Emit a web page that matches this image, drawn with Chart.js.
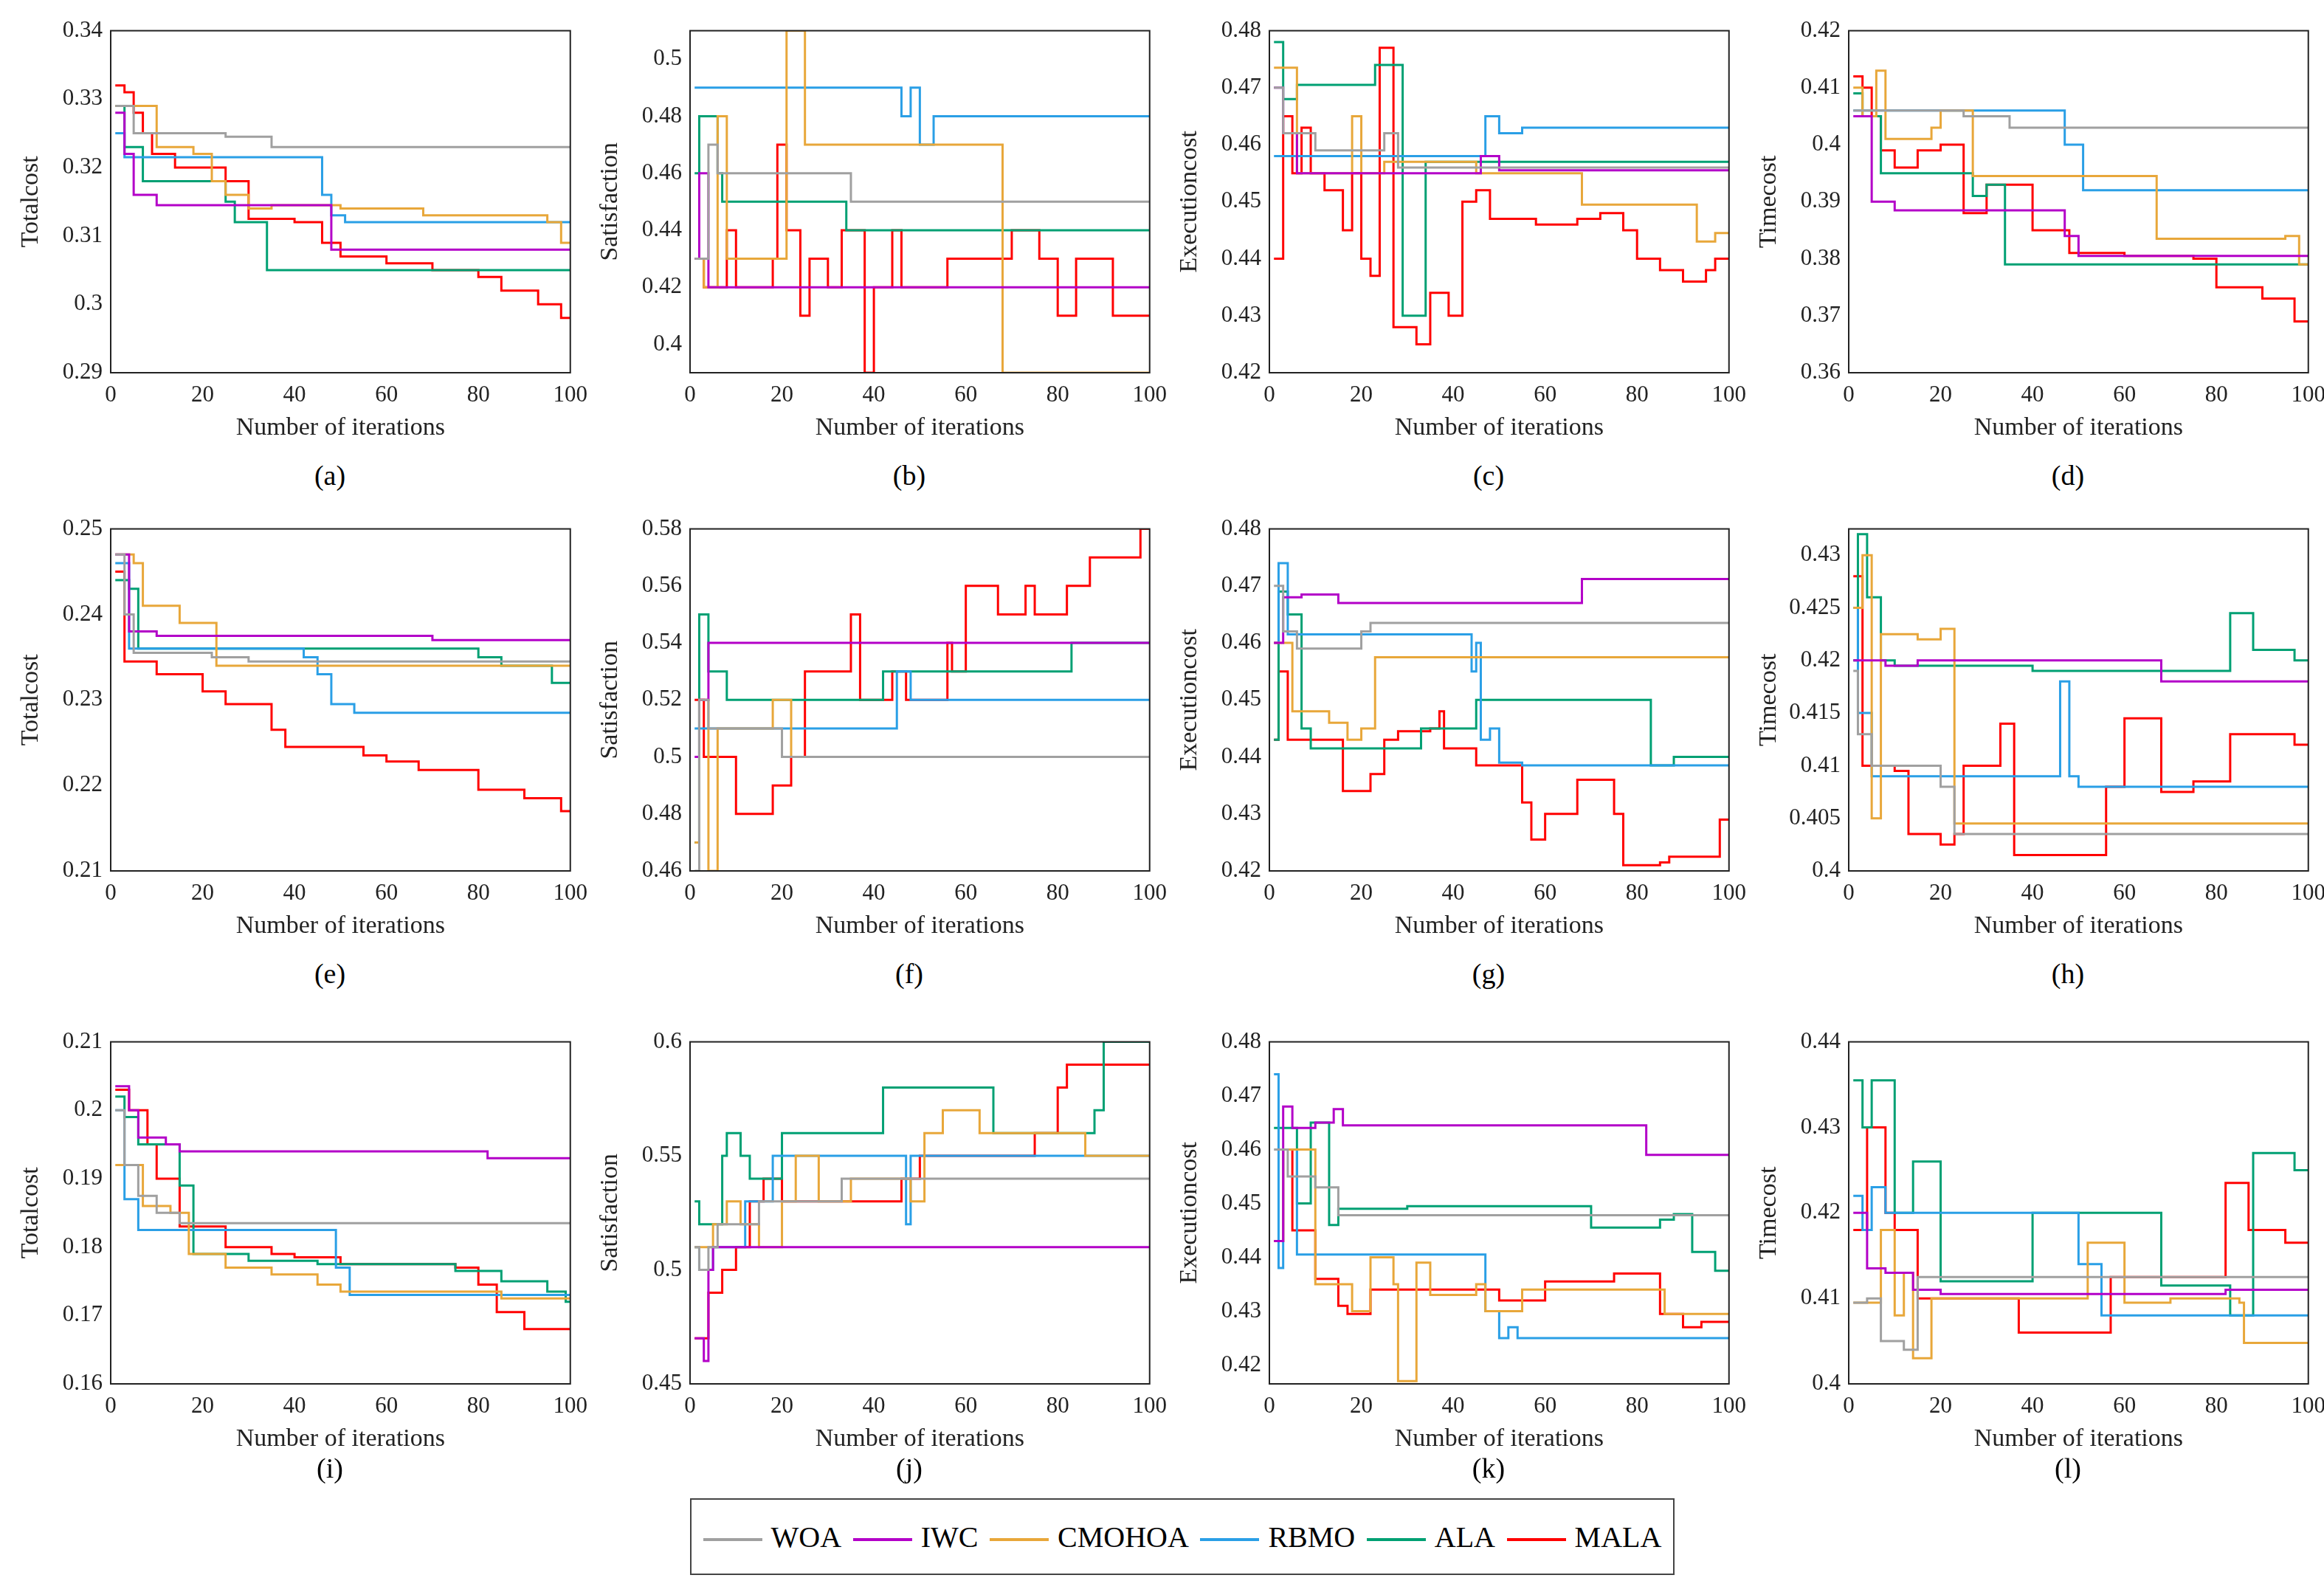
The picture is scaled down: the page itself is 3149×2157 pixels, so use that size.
<!DOCTYPE html>
<html>
<head>
<meta charset="utf-8">
<script src="https://cdn.jsdelivr.net/npm/chart.js@4"></script>
<style>
  body { margin: 0; background: #fff; width: 3149px; height: 2157px; position: relative; overflow: hidden; font-family: "Liberation Serif", serif; }
  .panel { position: absolute; width: 780px; height: 580px; }
  .tag { position: absolute; font-size: 38px; width: 200px; text-align: center; }
  #legend { position: absolute; left: 935px; top: 2030px; width: 1330px; height: 100px; border: 2px solid #444; display: flex; align-items: center; justify-content: space-evenly; font-size: 40px; }
  #legend span.ln { display: inline-block; width: 80px; height: 0; border-top: 4px solid; vertical-align: middle; margin-right: 12px; }
</style>
</head>
<body>
<div id="legend"></div>
<script>
const seriesNames = ["WOA", "IWC", "CMOHOA", "RBMO", "ALA", "MALA"];
const seriesColors = ["#a0a0a0", "#b300c8", "#e8a73a", "#2a9fe6", "#00a073", "#ff0000"];
const yTitles = ["Totalcost", "Satisfaction", "Executioncost", "Timecost"];
const xTicks = [0, 20, 40, 60, 80, 100];

// step breakpoints [iteration, value] per panel, series order as seriesNames
const pA = [
  [[1,.329],[5,.325],[25,.3245],[35,.323]],
  [[1,.328],[3,.322],[5,.316],[10,.3145],[48,.308]],
  [[1,.329],[10,.323],[18,.322],[22,.318],[25,.316],[30,.314],[35,.3145],[50,.314],[68,.313],[95,.312],[98,.309]],
  [[1,.325],[3,.3215],[46,.316],[48,.313],[51,.312]],
  [[1,.329],[3,.323],[7,.318],[25,.315],[27,.312],[34,.305]],
  [[1,.332],[3,.331],[5,.328],[7,.325],[9,.322],[14,.320],[25,.318],[30,.3125],[40,.312],[46,.309],[50,.307],[60,.306],[70,.305],[80,.304],[85,.302],[93,.300],[98,.298]]
];
const pB = [
  [[1,.43],[4,.47],[6,.46],[35,.45]],
  [[1,.43],[2,.46],[4,.42]],
  [[1,.43],[3,.42],[6,.48],[8,.43],[21,.51],[25,.47],[68,.39]],
  [[1,.49],[46,.48],[48,.49],[50,.47],[53,.48]],
  [[1,.46],[2,.48],[6,.46],[7,.45],[34,.44]],
  [[1,.43],[3,.42],[8,.44],[10,.42],[18,.43],[19,.47],[21,.44],[24,.41],[26,.43],[30,.42],[33,.44],[38,.39],[40,.42],[44,.44],[46,.42],[56,.43],[70,.44],[76,.43],[80,.41],[84,.43],[92,.41]]
];
const pC = [
  [[1,.47],[3,.462],[10,.459],[25,.462],[28,.456]],
  [[1,.47],[3,.462],[6,.455],[46,.458],[50,.4555]],
  [[1,.4735],[6,.455],[18,.465],[20,.455],[25,.457],[45,.455],[68,.4495],[93,.443],[97,.4445]],
  [[1,.458],[47,.465],[50,.462],[55,.463]],
  [[1,.478],[3,.468],[6,.4705],[23,.474],[29,.430],[34,.457]],
  [[1,.44],[3,.465],[5,.455],[7,.463],[9,.455],[12,.452],[16,.445],[18,.455],[20,.440],[22,.437],[24,.477],[27,.428],[32,.425],[35,.434],[39,.430],[42,.450],[45,.452],[48,.447],[58,.446],[67,.447],[72,.448],[77,.445],[80,.440],[85,.438],[90,.436],[95,.438],[97,.440]]
];
const pD = [
  [[1,.406],[25,.405],[35,.403]],
  [[1,.405],[5,.390],[10,.3885],[47,.384],[50,.3805]],
  [[1,.410],[3,.405],[6,.413],[8,.401],[18,.403],[20,.406],[27,.3945],[67,.3835],[95,.384],[98,.379]],
  [[1,.406],[47,.400],[51,.392]],
  [[1,.409],[3,.405],[7,.395],[27,.391],[30,.393],[34,.379]],
  [[1,.412],[3,.410],[5,.405],[7,.399],[10,.396],[15,.399],[20,.400],[25,.388],[30,.393],[40,.385],[48,.381],[60,.3805],[75,.380],[80,.375],[90,.373],[97,.369]]
];
const pE = [
  [[1,.247],[3,.240],[5,.2355],[22,.235],[30,.2345]],
  [[1,.247],[4,.238],[10,.2375],[70,.237]],
  [[1,.247],[5,.246],[7,.241],[15,.239],[23,.234]],
  [[1,.246],[4,.236],[42,.235],[45,.233],[48,.2295],[53,.2285]],
  [[1,.244],[4,.243],[6,.236],[80,.235],[85,.234],[96,.232]],
  [[1,.245],[3,.2345],[10,.233],[20,.231],[25,.2295],[35,.2265],[38,.2245],[55,.2235],[60,.2228],[67,.2218],[80,.2195],[90,.2185],[98,.217]]
];
const pF = [
  [[1,.46],[2,.52],[4,.51],[20,.50]],
  [[1,.50],[2,.52],[4,.54]],
  [[1,.47],[2,.52],[4,.46],[6,.51],[18,.52],[22,.50]],
  [[1,.51],[45,.53],[48,.52]],
  [[1,.47],[2,.55],[4,.53],[8,.52],[42,.53],[83,.54]],
  [[1,.52],[3,.50],[10,.48],[18,.49],[22,.50],[25,.53],[35,.55],[37,.52],[44,.53],[47,.52],[56,.54],[57,.53],[60,.56],[67,.55],[73,.56],[75,.55],[82,.56],[87,.57],[98,.58]]
];
const pG = [
  [[1,.47],[3,.462],[6,.459],[20,.462],[22,.4635]],
  [[1,.46],[3,.468],[7,.4685],[15,.467],[68,.4712]],
  [[1,.46],[5,.448],[13,.446],[17,.443],[20,.445],[23,.4575]],
  [[1,.46],[2,.474],[4,.4615],[44,.455],[45,.460],[46,.443],[48,.445],[50,.439],[55,.4385]],
  [[1,.443],[2,.469],[4,.465],[7,.445],[9,.4415],[33,.445],[45,.450],[83,.4385],[88,.440]],
  [[1,.443],[2,.455],[4,.443],[16,.434],[22,.437],[25,.443],[28,.4445],[35,.445],[37,.448],[38,.4415],[45,.4385],[55,.432],[57,.4255],[60,.430],[67,.436],[75,.430],[77,.421],[85,.4215],[87,.4225],[98,.429]]
];
const pH = [
  [[1,.419],[2,.413],[5,.410],[20,.408],[23,.4035]],
  [[1,.420],[8,.4195],[15,.420],[68,.418]],
  [[1,.425],[3,.430],[5,.405],[7,.4225],[15,.422],[20,.423],[23,.4045]],
  [[1,.425],[2,.415],[5,.409],[46,.418],[48,.409],[50,.408]],
  [[1,.420],[2,.432],[4,.426],[7,.420],[10,.4195],[40,.419],[83,.4245],[88,.421],[97,.420]],
  [[1,.428],[3,.410],[10,.4095],[13,.4035],[20,.4025],[23,.4035],[25,.410],[33,.414],[36,.4015],[56,.408],[60,.4145],[68,.4075],[75,.4085],[83,.413],[97,.412]]
];
const pI = [
  [[1,.200],[3,.192],[6,.1875],[10,.185],[15,.1835]],
  [[1,.2035],[4,.200],[6,.196],[12,.195],[15,.194],[82,.193]],
  [[1,.192],[7,.186],[13,.185],[17,.179],[25,.177],[35,.176],[45,.1745],[50,.1735],[85,.1725]],
  [[1,.200],[3,.187],[6,.1825],[49,.177],[52,.173]],
  [[1,.202],[3,.199],[6,.195],[15,.189],[18,.179],[30,.178],[45,.1775],[75,.1765],[85,.175],[95,.1735],[99,.172]],
  [[1,.203],[4,.200],[8,.195],[10,.190],[15,.183],[25,.180],[35,.179],[40,.1785],[50,.1775],[75,.177],[80,.1745],[84,.1705],[90,.168]]
];
const pJ = [
  [[1,.51],[2,.50],[4,.51],[6,.52],[15,.53],[33,.54]],
  [[1,.47],[3,.46],[4,.50],[5,.51]],
  [[1,.51],[5,.52],[8,.53],[11,.52],[15,.51],[20,.53],[23,.55],[28,.53],[35,.54],[48,.53],[51,.56],[55,.57],[63,.56],[86,.55]],
  [[1,.51],[2,.50],[5,.51],[12,.53],[18,.55],[47,.52],[48,.55]],
  [[1,.53],[2,.52],[7,.55],[8,.56],[11,.55],[13,.54],[20,.56],[42,.58],[66,.56],[88,.57],[90,.60]],
  [[1,.47],[4,.49],[7,.50],[10,.51],[13,.53],[16,.54],[20,.53],[46,.54],[50,.55],[75,.56],[80,.58],[82,.59]]
];
const pK = [
  [[1,.460],[4,.455],[10,.453],[15,.4478]],
  [[1,.443],[3,.468],[5,.464],[10,.465],[14,.4675],[16,.4645],[82,.459]],
  [[1,.443],[3,.460],[10,.435],[18,.430],[22,.440],[27,.435],[28,.417],[32,.439],[35,.433],[45,.435],[47,.430],[55,.434],[86,.4295]],
  [[1,.474],[2,.438],[3,.460],[6,.4405],[47,.430],[50,.425],[52,.427],[54,.425]],
  [[1,.464],[6,.450],[9,.465],[13,.446],[15,.449],[30,.4495],[70,.4455],[85,.447],[88,.448],[92,.441],[97,.4375]],
  [[1,.443],[3,.460],[5,.445],[10,.436],[15,.431],[17,.4295],[22,.434],[50,.432],[60,.4355],[75,.437],[85,.4295],[90,.427],[94,.428]]
];
const pL = [
  [[1,.4095],[4,.410],[7,.405],[12,.404],[15,.4125]],
  [[1,.420],[4,.4135],[8,.413],[14,.411],[20,.4105],[82,.411]],
  [[1,.4095],[7,.418],[10,.408],[12,.413],[14,.403],[18,.410],[52,.4165],[60,.4095],[70,.410],[85,.4095],[86,.4048]],
  [[1,.422],[3,.418],[5,.423],[8,.420],[50,.414],[55,.408]],
  [[1,.4355],[3,.430],[5,.4355],[10,.420],[14,.426],[20,.412],[40,.420],[68,.4115],[83,.408],[88,.427],[97,.425]],
  [[1,.418],[4,.430],[8,.420],[10,.418],[15,.410],[37,.406],[57,.4125],[82,.4235],[87,.418],[95,.4165]]
];

const yTicksA = [0.29, 0.30, 0.31, 0.32, 0.33, 0.34];
const yTicksB = [0.40, 0.42, 0.44, 0.46, 0.48, 0.50];
const yTicksC = [0.42, 0.43, 0.44, 0.45, 0.46, 0.47, 0.48];
const yTicksD = [0.36, 0.37, 0.38, 0.39, 0.40, 0.41, 0.42];
const yTicksE = [0.21, 0.22, 0.23, 0.24, 0.25];
const yTicksF = [0.46, 0.48, 0.50, 0.52, 0.54, 0.56, 0.58];
const yTicksG = [0.42, 0.43, 0.44, 0.45, 0.46, 0.47, 0.48];
const yTicksH = [0.400, 0.405, 0.410, 0.415, 0.420, 0.425, 0.430];
const yTicksI = [0.16, 0.17, 0.18, 0.19, 0.20, 0.21];
const yTicksJ = [0.45, 0.50, 0.55, 0.60];
const yTicksK = [0.42, 0.43, 0.44, 0.45, 0.46, 0.47, 0.48];
const yTicksL = [0.40, 0.41, 0.42, 0.43, 0.44];

const panels = [
  { data: pA, ticks: yTicksA, min: 0.29, max: 0.34, tag: "(a)" },
  { data: pB, ticks: yTicksB, min: 0.39, max: 0.51, tag: "(b)" },
  { data: pC, ticks: yTicksC, min: 0.42, max: 0.48, tag: "(c)" },
  { data: pD, ticks: yTicksD, min: 0.36, max: 0.42, tag: "(d)" },
  { data: pE, ticks: yTicksE, min: 0.21, max: 0.25, tag: "(e)" },
  { data: pF, ticks: yTicksF, min: 0.46, max: 0.58, tag: "(f)" },
  { data: pG, ticks: yTicksG, min: 0.42, max: 0.48, tag: "(g)" },
  { data: pH, ticks: yTicksH, min: 0.40, max: 0.4325, tag: "(h)" },
  { data: pI, ticks: yTicksI, min: 0.16, max: 0.21, tag: "(i)" },
  { data: pJ, ticks: yTicksJ, min: 0.45, max: 0.60, tag: "(j)" },
  { data: pK, ticks: yTicksK, min: 0.4165, max: 0.48, tag: "(k)" },
  { data: pL, ticks: yTicksL, min: 0.40, max: 0.44, tag: "(l)" },
];

const colLeft = [150, 935, 1720, 2505];
const rowTop = [40, 715, 1410];
const tagTop = [622, 1297, 1967];
const yAxisW = 130, xAxisH = 95, padTop = 20;

// box around plot area like MATLAB axes
const boxPlugin = {
  id: "box",
  afterDraw(chart) {
    const { ctx, chartArea: a } = chart;
    ctx.save();
    ctx.strokeStyle = "#222";
    ctx.lineWidth = 2;
    ctx.strokeRect(a.left, a.top, a.right - a.left, a.bottom - a.top);
    ctx.restore();
  },
};

const fmt = (v) => String(Number(v.toFixed(4)));

panels.forEach((p, i) => {
  const col = i % 4, row = Math.floor(i / 4);
  const div = document.createElement("div");
  div.className = "panel";
  div.style.left = colLeft[col] - yAxisW + "px";
  div.style.top = rowTop[row] - padTop + "px";
  const canvas = document.createElement("canvas");
  canvas.width = 780;
  canvas.height = 580;
  canvas.style.width = "780px";
  canvas.style.height = "580px";
  div.appendChild(canvas);
  document.body.appendChild(div);

  const tag = document.createElement("div");
  tag.className = "tag";
  tag.textContent = p.tag;
  tag.style.left = colLeft[col] + 297 - 100 + "px";
  tag.style.top = tagTop[row] + "px";
  document.body.appendChild(tag);

  const datasets = p.data.map((pts, k) => {
    const d = pts.map(([x, y]) => ({ x, y }));
    if (d[d.length - 1].x < 100) d.push({ x: 100, y: d[d.length - 1].y });
    return {
      label: seriesNames[k],
      data: d,
      borderColor: seriesColors[k],
      borderWidth: 3,
      pointRadius: 0,
      stepped: true,
      fill: false,
    };
  });

  new Chart(canvas, {
    type: "line",
    data: { datasets },
    plugins: [boxPlugin],
    options: {
      responsive: false,
      animation: false,
      devicePixelRatio: 1,
      layout: { padding: { top: padTop, right: 12 } },
      plugins: { legend: { display: false }, tooltip: { enabled: false } },
      scales: {
        x: {
          type: "linear",
          min: 0,
          max: 100,
          afterBuildTicks: (s) => { s.ticks = xTicks.map((v) => ({ value: v })); },
          afterFit: (s) => { s.height = xAxisH; },
          grid: { display: false },
          border: { display: false },
          ticks: { color: "#222", font: { family: "Liberation Serif", size: 31 }, maxRotation: 0, padding: 4 },
          title: { display: true, text: "Number of iterations", color: "#222", font: { family: "Liberation Serif", size: 34 }, padding: 0 },
        },
        y: {
          min: p.min,
          max: p.max,
          afterBuildTicks: (s) => { s.ticks = p.ticks.map((v) => ({ value: v })); },
          afterFit: (s) => { s.width = yAxisW; },
          grid: { display: false },
          border: { display: false },
          ticks: { color: "#222", font: { family: "Liberation Serif", size: 31 }, callback: fmt },
          title: { display: true, text: yTitles[col], color: "#222", font: { family: "Liberation Serif", size: 34 }, padding: 2 },
        },
      },
    },
  });
});

// shared legend
const legend = document.getElementById("legend");
seriesNames.forEach((n, k) => {
  const item = document.createElement("div");
  item.innerHTML = `<span class="ln" style="border-color:${seriesColors[k]}"></span>${n}`;
  legend.appendChild(item);
});
</script>
</body>
</html>
